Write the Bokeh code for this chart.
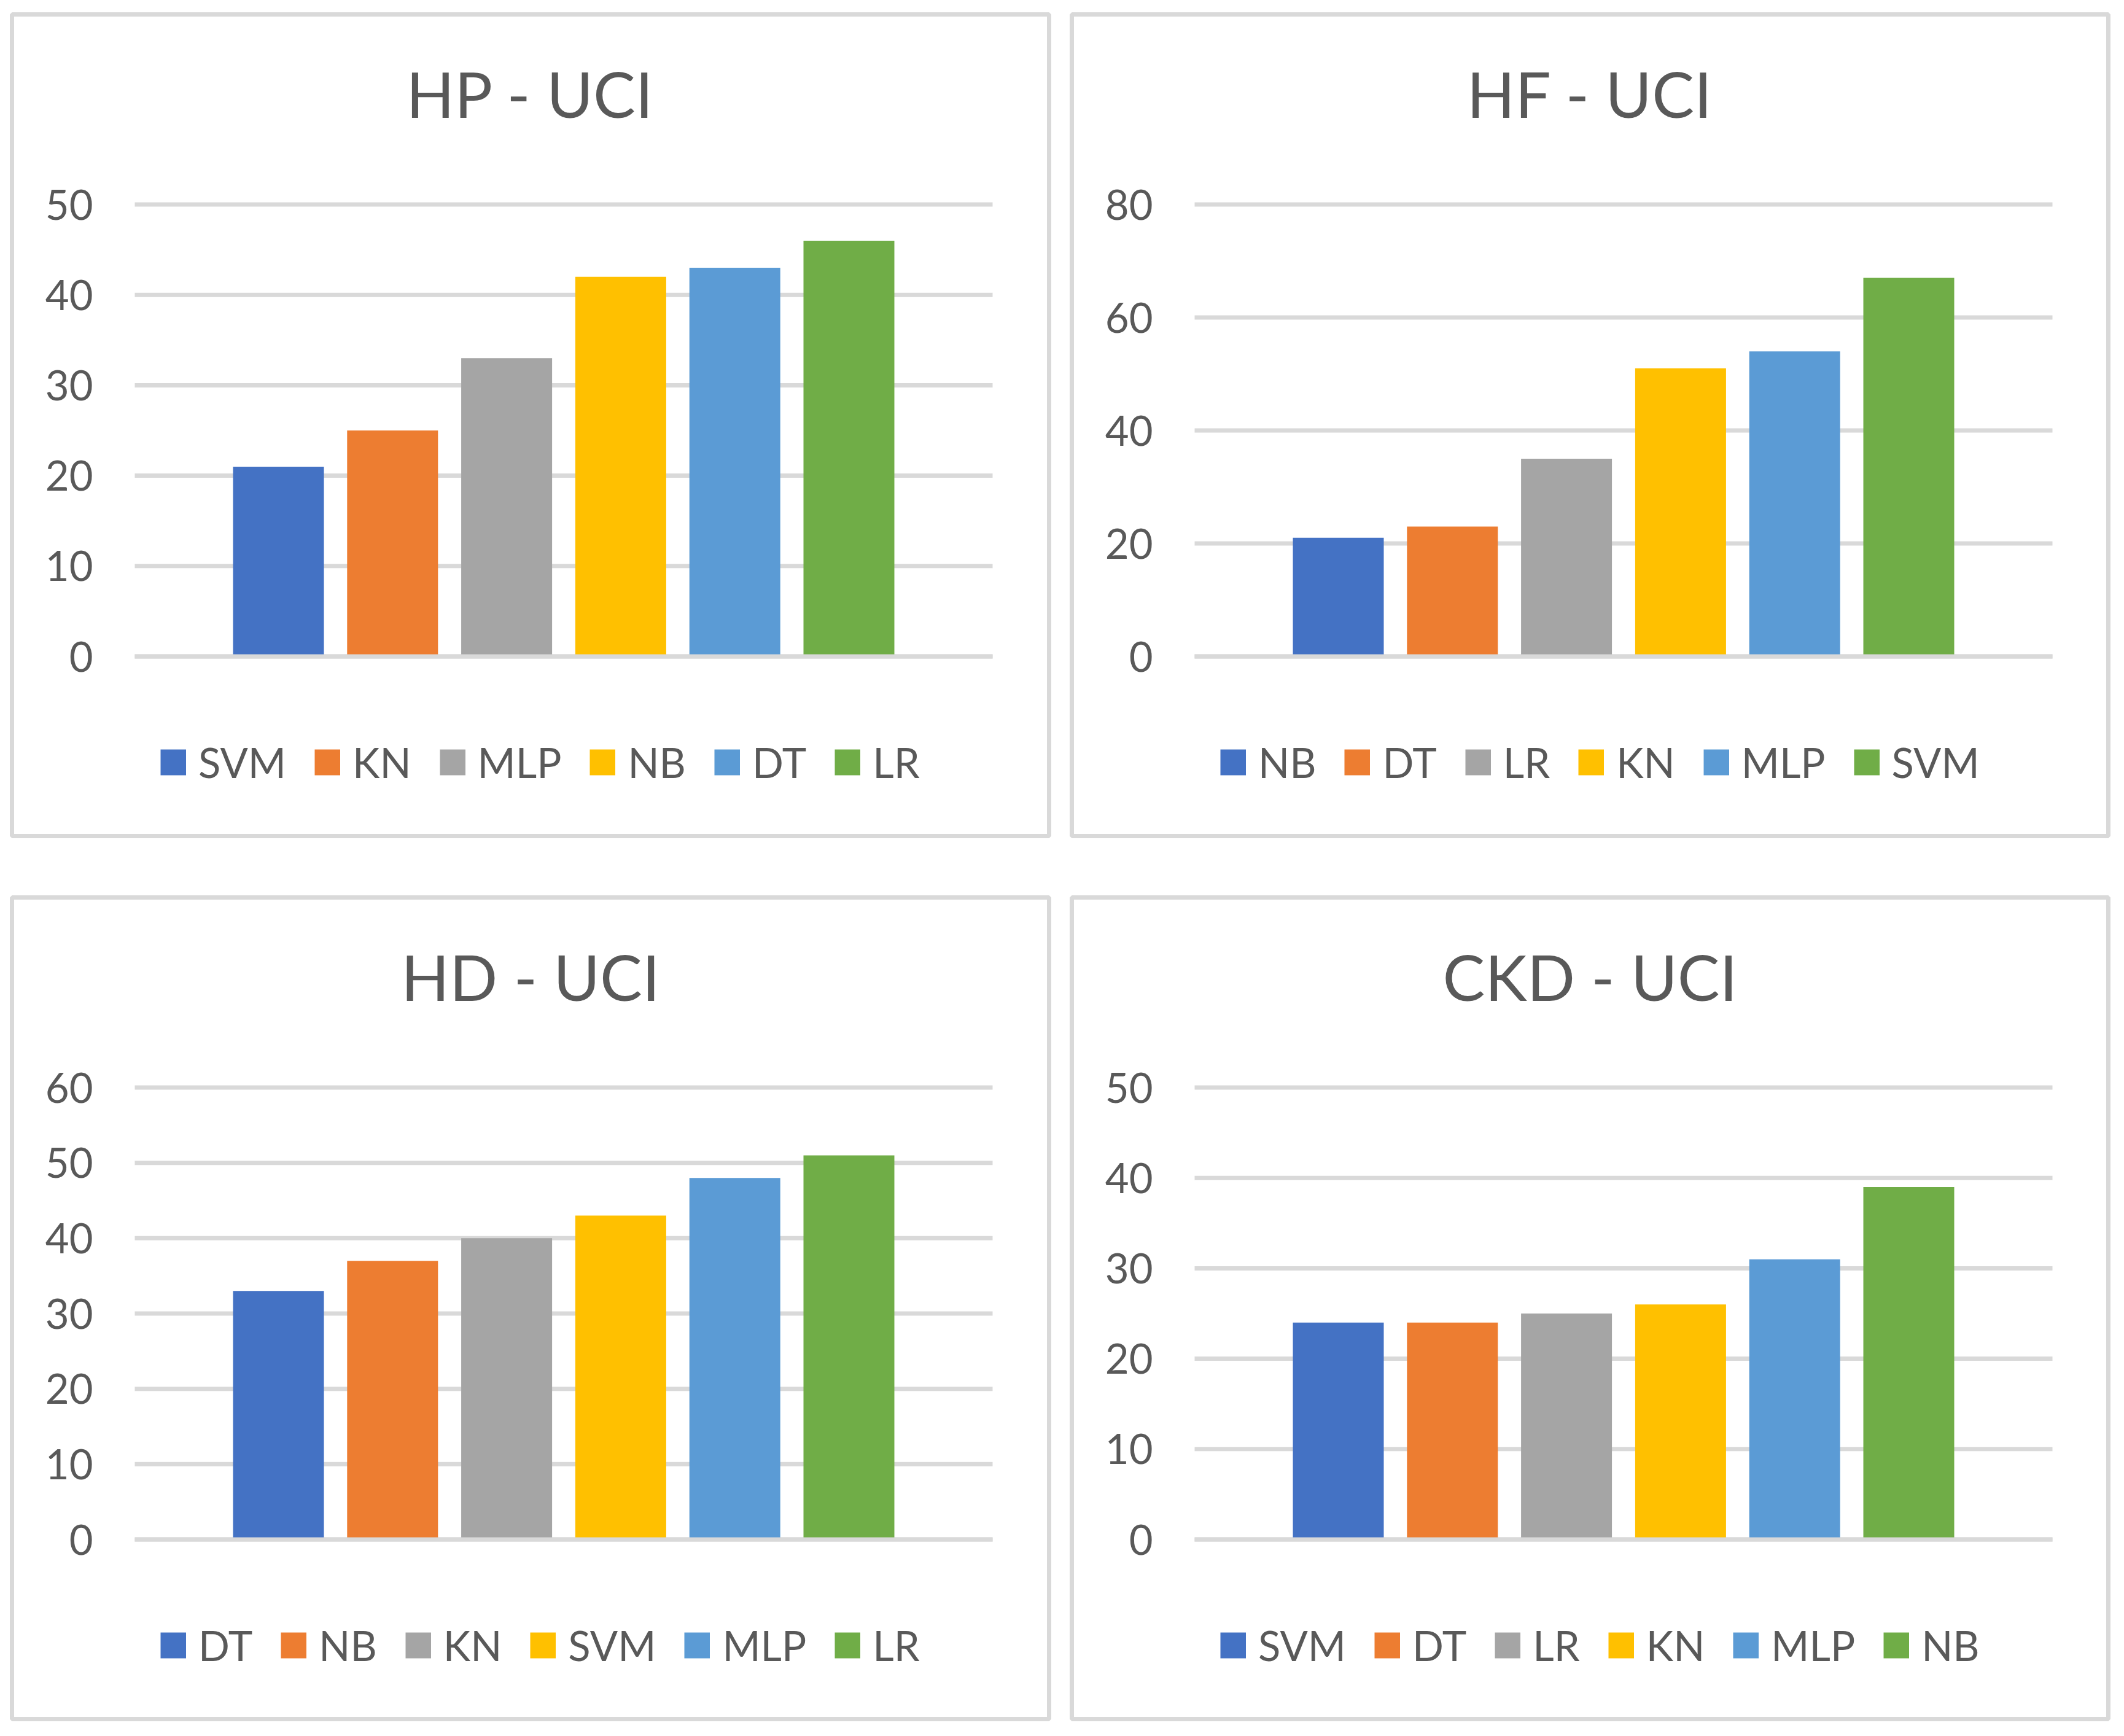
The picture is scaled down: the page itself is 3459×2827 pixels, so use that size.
from bokeh.plotting import figure
from bokeh.models import ColumnDataSource, LinearAxis, FixedTicker, Label, Legend, LegendItem
from bokeh.layouts import column, row
from bokeh.embed import file_html
from bokeh.resources import INLINE

# ---- data ----
hp_title = "HP - UCI"
hp_models = ["SVM", "KN", "MLP", "NB", "DT", "LR"]
hp_values = [21, 25, 33, 42, 43, 46]
hp_ticks = [0, 10, 20, 30, 40, 50]

hf_title = "HF - UCI"
hf_models = ["NB", "DT", "LR", "KN", "MLP", "SVM"]
hf_values = [21, 23, 35, 51, 54, 67]
hf_ticks = [0, 20, 40, 60, 80]

hd_title = "HD - UCI"
hd_models = ["DT", "NB", "KN", "SVM", "MLP", "LR"]
hd_values = [33, 37, 40, 43, 48, 51]
hd_ticks = [0, 10, 20, 30, 40, 50, 60]

ckd_title = "CKD - UCI"
ckd_models = ["SVM", "DT", "LR", "KN", "MLP", "NB"]
ckd_values = [24, 24, 25, 26, 31, 39]
ckd_ticks = [0, 10, 20, 30, 40, 50]

series_colors = ["#4472C4", "#ED7D31", "#A5A5A5", "#FFC000", "#5B9BD5", "#70AD47"]

# ---- style / layout constants ----
FONT = "Lato"
TEXT = "#595959"
GRID = "#D9D9D9"
FRAME_H = 1338
PPX = 185.8          # pixels per category slot
BAR0 = 434           # first bar centre from frame left
BAR_W = 148
GRID_L, GRID_R = 200, 1597
ZERO_PX = 292.5      # baseline above frame bottom
TOP_PX = 1028.5      # top gridline above frame bottom
SWATCH = 42


def make_panel(title, names, vals, ticks, width, height, frame_w, mb_left, mb_right, mb_top, mb_bottom):
    ymax = ticks[-1]
    ppu = (TOP_PX - ZERO_PX) / ymax
    y_start = -ZERO_PX / ppu
    y_end = (FRAME_H - ZERO_PX) / ppu
    x_start = -BAR0 / PPX
    x_end = (frame_w - BAR0) / PPX
    p = figure(width=width, height=height, x_range=(x_start, x_end), y_range=(y_start, y_end),
               x_axis_type=None, y_axis_type=None, toolbar_location=None, output_backend="svg",
               min_border_left=mb_left, min_border_right=mb_right, min_border_top=mb_top,
               min_border_bottom=mb_bottom)
    p.title.visible = False
    p.outline_line_color = GRID
    p.outline_line_width = 7
    p.background_fill_color = "white"
    p.border_fill_color = "white"

    n = len(names)
    xs = list(range(n))
    src = ColumnDataSource(dict(x=xs, top=vals, name=names, color=series_colors[:n]))
    gx0 = (GRID_L - BAR0) / PPX
    gx1 = (GRID_R - BAR0) / PPX
    p.segment(x0=[gx0] * len(ticks), x1=[gx1] * len(ticks), y0=ticks, y1=ticks,
              line_color=GRID, line_width=7)
    p.vbar(x="x", top="top", bottom=0, width=BAR_W / PPX, fill_color="color",
           line_color=None, source=src)
    p.segment(x0=[gx0], x1=[gx1], y0=[ticks[0]], y1=[ticks[0]], line_color=GRID, line_width=7)

    # legend swatches: empty multi_line whose legend glyph is a thick butt-capped band
    leg_src = ColumnDataSource(dict(xs=[[] for _ in names], ys=[[] for _ in names],
                                    name=names, color=series_colors[:n]))
    r = p.multi_line(xs="xs", ys="ys", line_color="color", line_width=SWATCH,
                     line_cap="butt", source=leg_src)

    ax = LinearAxis(fixed_location=gx0, ticker=FixedTicker(ticks=ticks))
    ax.axis_line_color = None
    ax.major_tick_line_color = None
    ax.minor_tick_line_color = None
    ax.major_tick_out = 0
    ax.major_tick_in = 0
    ax.minor_tick_out = 0
    ax.minor_tick_in = 0
    ax.major_label_standoff = 68
    ax.major_label_text_font = FONT
    ax.major_label_text_font_size = "67px"
    ax.major_label_text_color = TEXT
    p.add_layout(ax, "left")

    p.add_layout(Label(x=frame_w / 2, y=FRAME_H - 128, x_units="screen", y_units="screen",
                       text=title, text_align="center", text_baseline="alphabetic",
                       text_font=FONT, text_font_size="103px", text_color=TEXT))

    items = [LegendItem(label=nm, renderers=[r], index=i) for i, nm in enumerate(names)]
    leg = Legend(items=items, orientation="horizontal", location=(242, 75),
                 glyph_width=SWATCH, glyph_height=90, label_height=90,
                 label_standoff=20, spacing=46, padding=0, margin=0,
                 border_line_color=None, background_fill_alpha=0,
                 label_text_font=FONT, label_text_font_size="67px", label_text_color=TEXT)
    p.add_layout(leg)
    return p


p1 = make_panel(hp_title, hp_models, hp_values, hp_ticks, 1734, 1446, 1689, 19, 26, 23, 85)
p2 = make_panel(hf_title, hf_models, hf_values, hf_ticks, 1709, 1446, 1688, 11, 10, 23, 85)
p3 = make_panel(hd_title, hd_models, hd_values, hd_ticks, 1734, 1364, 1689, 19, 26, 15, 11)
p4 = make_panel(ckd_title, ckd_models, ckd_values, ckd_ticks, 1709, 1364, 1688, 11, 10, 15, 11)

layout = column(row(p1, p2), row(p3, p4))
open("out.html", "w").write(file_html(layout, INLINE))
